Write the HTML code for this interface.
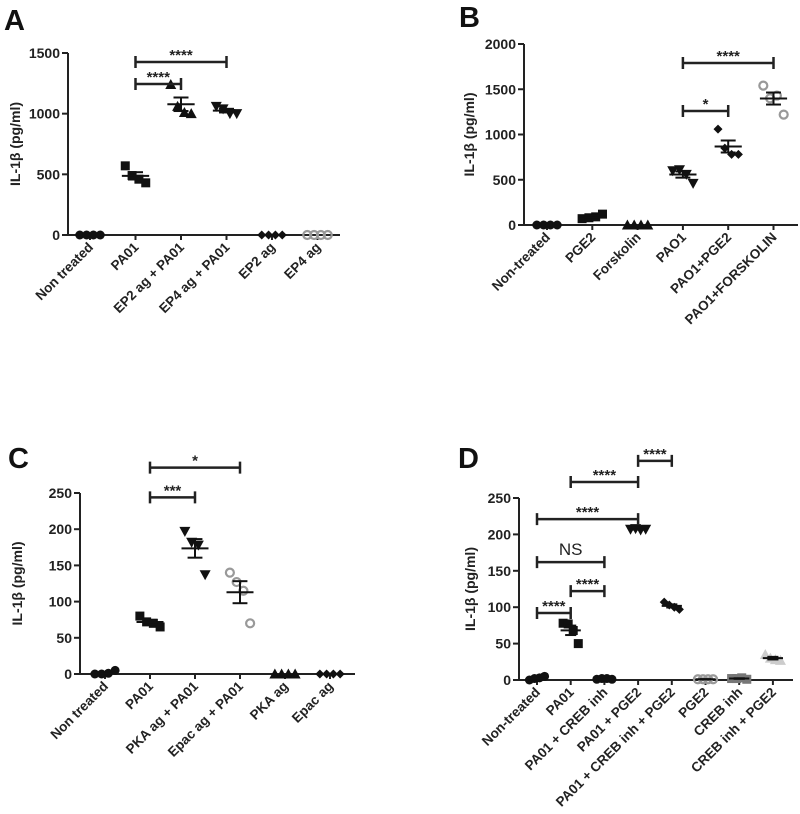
<!DOCTYPE html>
<html><head><meta charset="utf-8"><style>
body{margin:0;background:#fff}
svg{display:block;font-family:"Liberation Sans",Arial,sans-serif}
</style></head><body>
<svg id="fig" width="800" height="814"></svg>
<script>
// Panel A data
const aCats=["Non treated","PA01","EP2 ag + PA01","EP4 ag + PA01","EP2 ag","EP4 ag"];
const aVals=[[0,0,0,0],[570,490,460,430],[1240,1060,1010,1000],[1060,1040,1000,1000],[0,0,0,0],[0,0,0,0]];
const aTicks=[0,500,1000,1500];
const aSig=[[1,3,1426,"****"],[1,2,1245,"****"]];
// Panel B data
const bCats=["Non-treated","PGE2","Forskolin","PAO1","PAO1+PGE2","PAO1+FORSKOLIN"];
const bVals=[[0,0,0,0],[70,80,90,120],[0,0,0,0],[600,610,560,460],[1060,850,780,780],[1540,1400,1430,1220]];
const bTicks=[0,500,1000,1500,2000];
const bSig=[[3,5,1790,"****"],[3,4,1260,"*"]];
// Panel C data
const cCats=["Non treated","PA01","PKA ag + PA01","Epac ag + PA01","PKA ag","Epac ag"];
const cVals=[[0,0,1,5],[80,72,70,65],[197,182,178,137],[140,127,115,70],[0,0,0,0],[0,0,0,0]];
const cTicks=[0,50,100,150,200,250];
const cSig=[[1,3,285,"*"],[1,2,244,"***"]];
// Panel D data
const dCats=["Non-treated","PA01","PA01 + CREB inh","PA01 + PGE2","PA01 + CREB inh + PGE2","PGE2","CREB inh","CREB inh + PGE2"];
const dVals=[[0,2,3,5],[78,77,68,50],[1,2,2,1],[207,208,206,207],[107,103,100,97],[1,1,1,1],[2,2,3,1],[35,30,28,27]];
const dTicks=[0,50,100,150,200,250];
const dSig=[[3,4,301,"****"],[1,3,272,"****"],[0,3,221,"****"],[0,2,162,"NS"],[1,2,122,"****"],[0,1,92,"****"]];

const NS="http://www.w3.org/2000/svg";
const svg=document.getElementById('fig');
function mk(tag,attrs,parent){const e=document.createElementNS(NS,tag);for(const k in attrs)e.setAttribute(k,attrs[k]);(parent||svg).appendChild(e);return e;}

const panels=[
 {id:'a',letter:'A',lx:4,ly:30,cats:aCats,vals:aVals,ticks:aTicks,sig:aSig,ax:68,y0:235,ymax:1500,ytop:53,x0:90,dx:45.5,xend:340,marks:['circle','square','tri-up','tri-down','diamond','ocircle'],titleX:20},
 {id:'b',letter:'B',lx:459,ly:27,cats:bCats,vals:bVals,ticks:bTicks,sig:bSig,ax:524,y0:225,ymax:2000,ytop:44,x0:547,dx:45.3,xend:798,marks:['circle','square','tri-up','tri-down','diamond','ocircle'],titleX:474},
 {id:'c',letter:'C',lx:8,ly:468,cats:cCats,vals:cVals,ticks:cTicks,sig:cSig,ax:80,y0:674,ymax:250,ytop:493,x0:105,dx:45,xend:355,marks:['circle','square','tri-down','ocircle','tri-up','diamond'],titleX:22},
 {id:'d',letter:'D',lx:458,ly:468,cats:dCats,vals:dVals,ticks:dTicks,sig:dSig,ax:519,y0:680,ymax:250,ytop:498,x0:537,dx:33.7,xend:793,marks:['circle','square','circle','tri-down','diamond','ocircle','gsquare','ltri'],titleX:475}
];

function marker(g,type,x,y){
 let e;
 if(type==='circle'){e=mk('circle',{cx:x,cy:y,r:4.5,fill:'#111'},g);}
 else if(type==='ocircle'){e=mk('circle',{cx:x,cy:y,r:4,fill:'none',stroke:'#999','stroke-width':2.2},g);}
 else if(type==='square'){e=mk('rect',{x:x-4.5,y:y-4.5,width:9,height:9,fill:'#111'},g);}
 else if(type==='gsquare'){e=mk('rect',{x:x-4.5,y:y-4.5,width:9,height:9,fill:'#777'},g);}
 else if(type==='tri-up'){e=mk('polygon',{points:`${x},${y-5.5} ${x-5.5},${y+4.5} ${x+5.5},${y+4.5}`,fill:'#111'},g);}
 else if(type==='ltri'){e=mk('polygon',{points:`${x},${y-5.5} ${x-5.5},${y+4.5} ${x+5.5},${y+4.5}`,fill:'#ccc'},g);}
 else if(type==='tri-down'){e=mk('polygon',{points:`${x},${y+5.5} ${x-5.5},${y-4.5} ${x+5.5},${y-4.5}`,fill:'#111'},g);}
 else {e=mk('polygon',{points:`${x},${y-4.5} ${x+4.5},${y} ${x},${y+4.5} ${x-4.5},${y}`,fill:'#111'},g);}
 
 
}

panels.forEach(p=>{
 const g=mk('g',{});
 
 
 const Y=v=>p.y0-(v/p.ymax)*(p.y0-p.ytop);
 const X=i=>p.x0+i*p.dx;
 const L=mk('text',{x:p.lx,y:p.ly,'font-size':29,'font-weight':'bold',fill:'#111'},g);L.textContent=p.letter;
 
 const ya=mk('line',{x1:p.ax,y1:p.ytop,x2:p.ax,y2:p.y0,stroke:'#222','stroke-width':2},g);
 
 const xa=mk('line',{x1:p.ax,y1:p.y0,x2:p.xend,y2:p.y0,stroke:'#222','stroke-width':2},g);
 
 p.ticks.forEach(t=>{
  mk('line',{x1:p.ax-6,y1:Y(t),x2:p.ax,y2:Y(t),stroke:'#222','stroke-width':2},g);
  const tl=mk('text',{x:p.ax-8,y:Y(t)+5,'text-anchor':'end','font-size':14,'font-weight':'bold',fill:'#222'},g);
  tl.textContent=t;
  
 });
 const cy=(p.ytop+p.y0)/2;
 const tt=mk('text',{x:p.titleX,y:cy,'text-anchor':'middle','font-size':14,'font-weight':'bold',fill:'#222',transform:`rotate(-90 ${p.titleX} ${cy})`},g);
 tt.textContent='IL-1β (pg/ml)';
 
 p.cats.forEach((c,i)=>{
  const x=X(i);
  mk('line',{x1:x,y1:p.y0,x2:x,y2:p.y0+5,stroke:'#222','stroke-width':2},g);
  const lx=x+4,ly=p.y0+13;
  const cl=mk('text',{x:lx,y:ly,'text-anchor':'end','font-size':13.5,'font-weight':'bold',fill:'#222',transform:`rotate(-45 ${lx} ${ly})`},g);
  cl.textContent=c;
  
  const vs=p.vals[i];
  const off=[-1.5,-0.5,0.5,1.5];
  vs.forEach((v,k)=>marker(g,p.marks[i],x+off[k]*p.dx*0.15,Y(v)));
  const n=vs.length,m=vs.reduce((a,b)=>a+b,0)/n;
  const sd=Math.sqrt(vs.reduce((a,b)=>a+(b-m)*(b-m),0)/(n-1)),se=sd/Math.sqrt(n);
  if(m>0){
   const w=p.dx*0.3;
   mk('line',{x1:x-w,y1:Y(m),x2:x+w,y2:Y(m),stroke:'#111','stroke-width':2},g);
   mk('line',{x1:x,y1:Y(m-se),x2:x,y2:Y(m+se),stroke:'#111','stroke-width':2},g);
   mk('line',{x1:x-w*0.55,y1:Y(m+se),x2:x+w*0.55,y2:Y(m+se),stroke:'#111','stroke-width':2},g);
   mk('line',{x1:x-w*0.55,y1:Y(m-se),x2:x+w*0.55,y2:Y(m-se),stroke:'#111','stroke-width':2},g);
  }
 });
 p.sig.forEach(s=>{
  const x1=X(s[0]),x2=X(s[1]),y=Y(s[2]);
  const br=mk('path',{d:`M${x1},${y-6}V${y+6}M${x1},${y}H${x2}M${x2},${y-6}V${y+6}`,stroke:'#222','stroke-width':2.5,fill:'none'},g);
  
  const ns=s[3]==='NS';
  const st=mk('text',{x:(x1+x2)/2,y:ns?y-7:y-2,'text-anchor':'middle','font-size':ns?17:15,'font-weight':ns?'normal':'bold',fill:'#222'},g);
  st.textContent=s[3];
  
 });
});
</script>
</body></html>
